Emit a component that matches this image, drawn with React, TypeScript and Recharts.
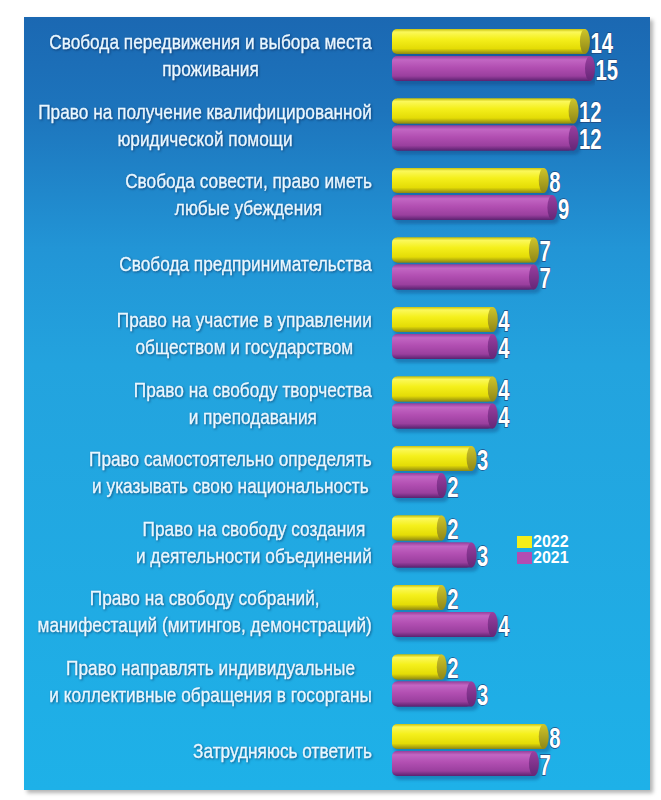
import React from "react";
import { BarChart, Bar, XAxis, YAxis, LabelList, Legend } from "recharts";

const categories: string[][] = [
  ["Свобода передвижения и выбора места", "проживания"],
  ["Право на получение квалифицированной", "юридической помощи"],
  ["Свобода совести, право иметь", "любые убеждения"],
  ["Свобода предпринимательства"],
  ["Право на участие в управлении", "обществом и государством"],
  ["Право на свободу творчества", "и преподавания"],
  ["Право самостоятельно определять", "и указывать свою национальность"],
  ["Право на свободу создания", "и деятельности объединений"],
  ["Право на свободу собраний,", "манифестаций (митингов, демонстраций)"],
  ["Право направлять индивидуальные", "и коллективные обращения в госорганы"],
  ["Затрудняюсь ответить"],
];
const values2022 = [14, 12, 8, 7, 4, 4, 3, 2, 2, 2, 8];
const values2021 = [15, 12, 9, 7, 4, 4, 2, 3, 4, 3, 7];
const seriesNames = ["2022", "2021"];

const data = categories.map((lines, i) => ({
  name: lines.join(" "),
  y2022: values2022[i],
  y2021: values2021[i],
}));

const LABEL_FONT = '"Liberation Sans", Arial, sans-serif';
const LABEL_SIZE = 20.5;
const LABEL_RIGHT = 372;
// the reference uses a narrow face; squeeze a regular one to the same width
const REF_LINE = "Право на получение квалифицированной";
const REF_LINE_WIDTH = 334;

let measureCtx: CanvasRenderingContext2D | null = null;
function textWidth(s: string, font: string) {
  if (!measureCtx) measureCtx = document.createElement("canvas").getContext("2d");
  if (!measureCtx) return s.length * 9;
  measureCtx.font = font;
  return measureCtx.measureText(s).width;
}

function CategoryTick(props: any) {
  const { y, payload } = props;
  const lines = categories[payload.index] || [String(payload.value)];
  const font = `${LABEL_SIZE}px ${LABEL_FONT}`;
  const sx = REF_LINE_WIDTH / textWidth(REF_LINE, font);
  const w = Math.max(...lines.map((l) => textWidth(l, font))) * sx;
  const cx = LABEL_RIGHT - w / 2;
  const offs = lines.length === 1 ? [0] : [-13.5, 13.5];
  return (
    <g style={{ filter: "drop-shadow(1px 1px 1px rgba(0,20,60,0.5))" }}>
      {lines.map((l, k) => (
        <text
          key={k}
          transform={`translate(${cx},${y + offs[k] + 1}) scale(${sx},1)`}
          textAnchor="middle"
          dominantBaseline="central"
          fontFamily={LABEL_FONT}
          fontSize={LABEL_SIZE}
          fill="#eaf7ff"
          stroke="#eaf7ff"
          strokeWidth={0.35}
        >
          {l}
        </text>
      ))}
    </g>
  );
}

// cylinder-looking bar: gradient body + darker end cap
function Cylinder(props: any) {
  const { x, y, width, height, tone } = props;
  if (width == null || width <= 0) return null;
  const capR = 5;
  const cy = y + height / 2;
  const body = tone === "y" ? "url(#gradY)" : "url(#gradP)";
  const cap = tone === "y" ? "url(#capY)" : "url(#capP)";
  return (
    <g>
      <rect x={x + 2} y={y + 4} width={width} height={height} rx={6} fill="#0b3a74" opacity={0.35} filter="url(#blur)" />
      <rect x={x} y={y} width={width - capR} height={height} rx={5} fill={body} />
      <rect x={x + 5} y={y} width={width - capR - 5} height={height} fill={body} />
      <ellipse cx={x + width - capR} cy={cy} rx={capR} ry={height / 2} fill={cap} />
    </g>
  );
}

function ValueLabel(props: any) {
  const vb = props.viewBox || props;
  const { x, y, width, height } = vb;
  const tx = x + width + 0.5;
  const ty = y + height / 2 + 1;
  return (
    <text
      transform={`translate(${tx},${ty}) scale(0.7,1)`}
      dominantBaseline="central"
      fontFamily={LABEL_FONT}
      fontWeight="bold"
      fontSize={29}
      fill="#ffffff"
      stroke="#21497e"
      strokeWidth={1.4}
      paintOrder="stroke"
    >
      {props.value}
    </text>
  );
}

function LegendBox() {
  const items = [
    { name: seriesNames[0], color: "#f3ee1a" },
    { name: seriesNames[1], color: "#b24cb2" },
  ];
  return (
    <div style={{ fontFamily: '"Liberation Sans", Arial, sans-serif', fontWeight: "bold", fontSize: 16, color: "#fff", lineHeight: "16px" }}>
      {items.map((it) => (
        <div key={it.name} style={{ display: "flex", alignItems: "center", height: 16 }}>
          <span style={{ display: "inline-block", width: 15, height: 12, background: it.color, marginRight: 1 }} />
          <span>{it.name}</span>
        </div>
      ))}
    </div>
  );
}

export default function App() {
  return (
    <div style={{ position: "absolute", left: 0, top: 0, width: 661, height: 800, background: "#ffffff" }}>
      <svg width={0} height={0} style={{ position: "absolute" }}>
        <defs>
          <linearGradient id="gradY" x1="0" y1="0" x2="0" y2="1">
            <stop offset="0%" stopColor="#c9c20c" />
            <stop offset="12%" stopColor="#fbf85a" />
            <stop offset="40%" stopColor="#f5f01c" />
            <stop offset="78%" stopColor="#e4dc06" />
            <stop offset="100%" stopColor="#8e8812" />
          </linearGradient>
          <linearGradient id="gradP" x1="0" y1="0" x2="0" y2="1">
            <stop offset="0%" stopColor="#96409c" />
            <stop offset="15%" stopColor="#c266c3" />
            <stop offset="45%" stopColor="#b24fb2" />
            <stop offset="80%" stopColor="#9a3f9e" />
            <stop offset="100%" stopColor="#5a2270" />
          </linearGradient>
          <linearGradient id="capY" x1="0" y1="0" x2="0" y2="1">
            <stop offset="0%" stopColor="#cfc52a" />
            <stop offset="100%" stopColor="#8f8716" />
          </linearGradient>
          <linearGradient id="capP" x1="0" y1="0" x2="0" y2="1">
            <stop offset="0%" stopColor="#9a3fa0" />
            <stop offset="100%" stopColor="#652677" />
          </linearGradient>
          <filter id="blur" x="-5%" y="-30%" width="110%" height="160%">
            <feGaussianBlur stdDeviation="1.5" />
          </filter>
        </defs>
      </svg>
      <div
        style={{
          position: "absolute",
          left: 24,
          top: 17,
          width: 626,
          height: 773,
          background:
            "linear-gradient(180deg, #1b68b2 0%, #1d74bc 12%, #2295d6 30%, #23a3de 45%, #1eb1e8 100%)",
          boxShadow: "3px 3px 4px rgba(0,0,0,0.3)",
        }}
      />
      <div style={{ position: "absolute", left: 0, top: 0 }}>
        <BarChart
          width={661}
          height={800}
          data={data}
          layout="vertical"
          margin={{ top: 20, right: 66, bottom: 15.5, left: 0 }}
          barSize={25}
          barGap={2}
        >
          <XAxis type="number" scale="log" domain={[0.95, 15]} allowDataOverflow hide />
          <YAxis
            type="category"
            dataKey="name"
            width={392}
            axisLine={false}
            tickLine={false}
            interval={0}
            tick={<CategoryTick />}
          />
          <Legend
            layout="vertical"
            align="center"
            verticalAlign="middle"
            wrapperStyle={{ position: "absolute", left: 517, top: 534, width: 80 }}
            content={() => <LegendBox />}
          />
          <Bar dataKey="y2022" name={seriesNames[0]} fill="#f3ee1a" isAnimationActive={false} shape={(p: any) => <Cylinder {...p} tone="y" />}>
            <LabelList dataKey="y2022" content={<ValueLabel />} />
          </Bar>
          <Bar dataKey="y2021" name={seriesNames[1]} fill="#b24cb2" isAnimationActive={false} shape={(p: any) => <Cylinder {...p} tone="p" />}>
            <LabelList dataKey="y2021" content={<ValueLabel />} />
          </Bar>
        </BarChart>
      </div>
    </div>
  );
}
